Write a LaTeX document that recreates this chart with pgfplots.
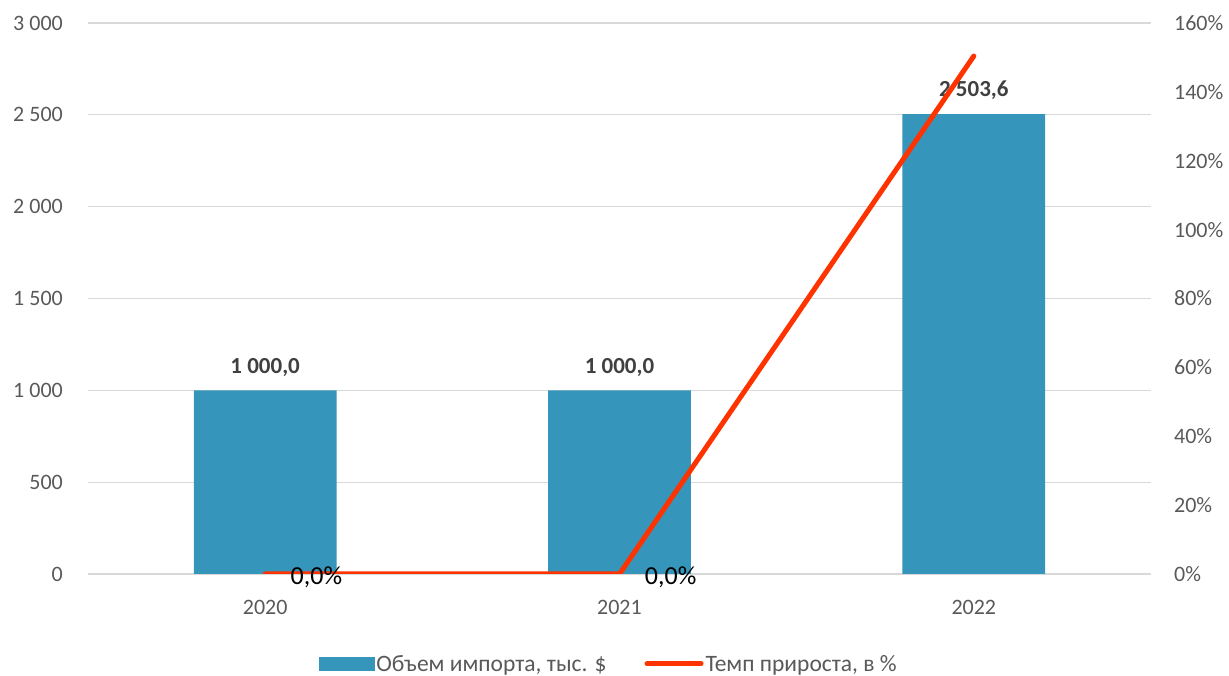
\documentclass[border=0pt]{standalone}
\usepackage{fontspec}
\setmainfont{Carlito}
\usepackage{pgfplots}
\pgfplotsset{compat=1.18}
\definecolor{barc}{RGB}{53,149,186}
\definecolor{linec}{RGB}{255,51,0}
\definecolor{txt}{RGB}{89,89,89}
\definecolor{lbl}{RGB}{64,64,64}
\definecolor{grd}{RGB}{217,217,217}
\begin{document}
\begin{tikzpicture}
\useasboundingbox (-88pt,-102pt) rectangle (1141pt,574pt);
\begin{axis}[
  at={(0pt,0pt)}, anchor=south west, scale only axis,
  width=1063pt, height=551pt,
  xmin=-0.5, xmax=2.5, ymin=0, ymax=3000,
  xtick={0,1,2}, xticklabels={2020,2021,2022},
  ytick={0,500,1000,1500,2000,2500,3000},
  yticklabels={0,500,1 000,1 500,2 000,2 500,3 000},
  axis line style={draw=none}, tick style={draw=none},
  ymajorgrids, grid style={grd, line width=1.2pt},
  yticklabel style={font=\fontsize{22}{22}\selectfont, text=txt, anchor=east, inner sep=0pt, xshift=-25pt},
  xticklabel style={font=\fontsize{22}{22}\selectfont, text=txt, anchor=north, inner sep=0pt, yshift=-22pt},
  ybar, bar width=0.403,
  nodes near coords, point meta=explicit symbolic,
  nodes near coords style={font=\bfseries\fontsize{23}{23}\selectfont, text=lbl, anchor=south, inner sep=0pt, yshift=14pt},
]
\addplot[fill=barc, draw=none] coordinates {(0,1000) [1 000,0] (1,1000) [1 000,0] (2,2503.6) [2 503,6]};
\end{axis}
\begin{axis}[
  at={(0pt,0pt)}, anchor=south west, scale only axis,
  width=1063pt, height=551pt,
  xmin=-0.5, xmax=2.5, ymin=0, ymax=160,
  xtick=\empty,
  ytick={0,20,...,160},
  yticklabels={0\%,20\%,40\%,60\%,80\%,100\%,120\%,140\%,160\%},
  yticklabel pos=right,
  axis line style={draw=none}, tick style={draw=none},
  yticklabel style={font=\fontsize{22}{22}\selectfont, text=txt, anchor=west, inner sep=0pt, xshift=23pt},
  legend columns=2,
  legend style={at={(0.490,-0.163)}, anchor=center, draw=none, fill=none,
    font=\fontsize{23.5}{23.5}\selectfont, text=txt,
    /tikz/every even column/.append style={column sep=36pt}},
  legend cell align=left,
]
\addlegendimage{legend image code/.code={\fill[barc] (0pt,-6.5pt) rectangle (55pt,6.5pt);}}
\addplot[linec, line width=5pt, line cap=round,
  legend image code/.code={\draw[linec, line width=5pt, line cap=round] (0pt,0pt) -- (54pt,0pt);},
  nodes near coords, point meta=explicit symbolic,
  nodes near coords style={font=\fontsize{26}{26}\selectfont, text=black, anchor=west, inner sep=0pt, xshift=23pt, yshift=-3pt}]
  coordinates {(0,0) [0,0\%] (1,0) [0,0\%] (2,150.4) []};
\legend{{Объем импорта, тыс. \$},{Темп прироста, в \%}}
\end{axis}
\end{tikzpicture}
\end{document}
